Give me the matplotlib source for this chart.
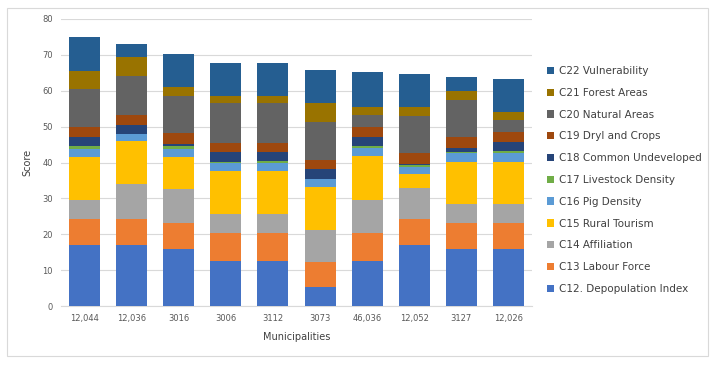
import matplotlib
matplotlib.use("Agg")
import matplotlib.pyplot as plt
from matplotlib.patches import Rectangle
import numpy as np

municipalities = ["12,044", "12,036", "3016", "3006", "3112", "3073", "46,036", "12,052", "3127", "12,026"]
series_names = ["C12. Depopulation Index", "C13 Labour Force", "C14 Affiliation", "C15 Rural Tourism",
                "C16 Pig Density", "C17 Livestock Density", "C18 Common Undeveloped", "C19 Dryl and Crops",
                "C20 Natural Areas", "C21 Forest Areas", "C22 Vulnerability"]
c12 = [16.9, 16.9, 15.8, 12.6, 12.5, 5.2, 12.5, 16.9, 15.8, 15.8]
c13 = [7.4, 7.4, 7.2, 7.7, 7.8, 7.2, 7.8, 7.4, 7.2, 7.2]
c14 = [5.3, 9.7, 9.5, 5.3, 5.3, 8.8, 9.3, 8.7, 5.3, 5.3]
c15 = [11.8, 11.9, 8.9, 11.9, 11.9, 11.9, 12.2, 3.8, 11.9, 11.9]
c16 = [2.4, 2.1, 2.4, 2.3, 2.5, 2.2, 2.2, 2.0, 2.4, 2.4]
c17 = [0.8, 0.0, 0.8, 0.4, 0.3, 0.0, 0.6, 0.4, 0.4, 0.7]
c18 = [2.6, 2.5, 0.6, 2.7, 2.6, 2.8, 2.6, 0.4, 1.0, 2.5]
c19 = [2.6, 2.8, 2.9, 2.6, 2.6, 2.6, 2.8, 3.0, 3.0, 2.8]
c20 = [10.6, 10.8, 10.5, 11.2, 11.0, 10.7, 3.3, 10.4, 10.4, 3.3]
c21 = [5.2, 5.4, 2.4, 1.7, 1.9, 5.1, 2.3, 2.4, 2.4, 2.3]
c22 = [9.3, 3.6, 9.3, 9.4, 9.4, 9.3, 9.5, 9.3, 3.9, 9.1]
series = [c12, c13, c14, c15, c16, c17, c18, c19, c20, c21, c22]
colors = ["#4472C4", "#ED7D31", "#A5A5A5", "#FFC000", "#5B9BD5", "#70AD47",
          "#264478", "#9E480E", "#636363", "#997300", "#255E91"]

fig = plt.figure(figsize=(7.18, 3.66), dpi=100)
fig.patches.append(Rectangle((7/718, 1 - 356/366), 701/718, 348/366, transform=fig.transFigure,
                             fill=False, edgecolor="#D9D9D9", linewidth=0.8))
ax = fig.add_axes([61/718, 1 - 306/366, 471/718, 287/366])

x = np.arange(len(municipalities))
bottom = np.zeros(len(municipalities))
handles = []
for name, vals, col in zip(series_names, series, colors):
    v = np.array(vals)
    b = ax.bar(x, v, bottom=bottom, width=0.66, color=col, label=name, zorder=3)
    handles.append(b)
    bottom += v

ax.set_xlim(-0.5, len(municipalities) - 0.5)
ax.set_ylim(0, 80)
ax.set_yticks(range(0, 81, 10))
ax.set_xticks(x)
ax.set_xticklabels(municipalities)
ax.tick_params(axis="both", length=0, labelsize=6, colors="#595959", pad=6)
ax.grid(axis="y", color="#D9D9D9", linewidth=0.8, zorder=0)
for s in ["top", "right", "left"]:
    ax.spines[s].set_visible(False)
ax.spines["bottom"].set_color("#D9D9D9")
ax.set_ylabel("Score", fontsize=7, color="#404040", labelpad=7)
ax.set_xlabel("Municipalities", fontsize=7, color="#404040", labelpad=6)

leg = fig.legend(handles[::-1], series_names[::-1], loc="upper left",
                 bbox_to_anchor=(543/718, 1 - 62/366), frameon=False,
                 fontsize=7.5, handlelength=0.7, handleheight=0.7, handletextpad=0.4,
                 labelspacing=1.13, borderaxespad=0)
for t in leg.get_texts():
    t.set_color("#404040")

fig.savefig("out.png", dpi=100)
